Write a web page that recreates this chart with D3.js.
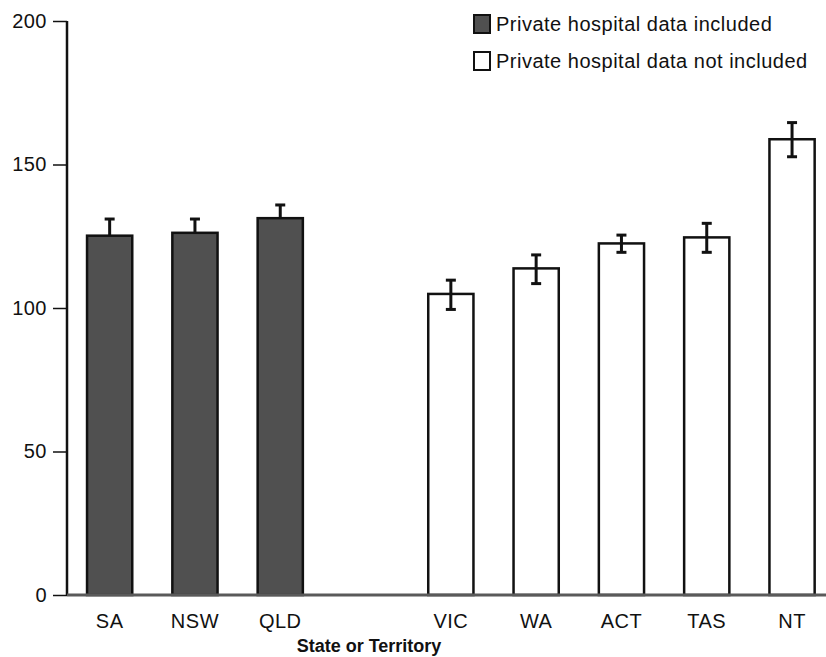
<!DOCTYPE html>
<html>
<head>
<meta charset="utf-8">
<script src="https://cdn.jsdelivr.net/npm/d3@7"></script>
<style>
  html, body { margin: 0; padding: 0; background: #fff; }
  svg { display: block; font-family: "Liberation Sans", Arial, Helvetica, sans-serif; }
</style>
</head>
<body>
<svg id="chart" width="826" height="657"></svg>
<script>
// Rates by state or territory, with error bar limits
const states = ["SA", "NSW", "QLD", "VIC", "WA", "ACT", "TAS", "NT"];
const rates  = [125.2, 126.2, 131.3, 104.9, 113.8, 122.5, 124.6, 158.8];
const lower  = [119.5, 121.5, 126.5, 99.5, 108.5, 119.4, 119.4, 152.7];
const upper  = [131.0, 131.0, 135.9, 109.7, 118.5, 125.4, 129.5, 164.6];
const privateIncluded = [true, true, true, false, false, false, false, false];
const yTicks = [0, 50, 100, 150, 200];
const legendLabels = ["Private hospital data included", "Private hospital data not included"];
const xTitle = "State or Territory";

// A blank slot separates the two groups on the axis
const slots = ["SA", "NSW", "QLD", "gap", "VIC", "WA", "ACT", "TAS", "NT"];

const svg = d3.select("#chart");
const x0 = 67, y0 = 595, yTop = 21;
const labelSize = 20, labelSpacing = "0.5px";

const x = d3.scaleBand().domain(slots).range([x0, x0 + 85.3 * 9]).paddingInner(0.47).paddingOuter(0.235);
const y = d3.scaleLinear().domain([0, 200]).range([y0, yTop]);

const darkFill = "#505050";

// Bars
const data = states.map((s, i) => ({ s, v: rates[i], lo: lower[i], hi: upper[i], p: privateIncluded[i] }));
svg.append("g").selectAll("rect").data(data).join("rect")
  .attr("x", d => x(d.s))
  .attr("y", d => y(d.v))
  .attr("width", x.bandwidth())
  .attr("height", d => y(0) - y(d.v))
  .attr("fill", d => d.p ? darkFill : "#fff")
  .attr("stroke", "#111")
  .attr("stroke-width", 2.5);

// Error bars
const eb = svg.append("g").attr("stroke", "#111").attr("stroke-width", 3);
data.forEach(d => {
  const cx = x(d.s) + x.bandwidth() / 2;
  eb.append("line").attr("x1", cx).attr("x2", cx).attr("y1", y(d.hi)).attr("y2", y(d.p ? d.v : d.lo));
  eb.append("line").attr("x1", cx - 5).attr("x2", cx + 5).attr("y1", y(d.hi)).attr("y2", y(d.hi));
  if (!d.p) eb.append("line").attr("x1", cx - 5).attr("x2", cx + 5).attr("y1", y(d.lo)).attr("y2", y(d.lo));
});

// Y axis
const yAxis = d3.axisLeft(y).tickValues(yTicks).tickSize(14).tickPadding(6);
const gy = svg.append("g").attr("transform", `translate(${x0},0)`).call(yAxis);
gy.select(".domain").remove();
gy.selectAll(".tick line").attr("stroke", "#111").attr("stroke-width", 1.5);
gy.selectAll(".tick text").attr("font-size", labelSize).attr("letter-spacing", labelSpacing).attr("fill", "#111")
  .attr("font-family", "'Liberation Sans', Arial, sans-serif");
svg.append("line").attr("x1", x0).attr("x2", x0).attr("y1", yTop).attr("y2", y0)
  .attr("stroke", "#111").attr("stroke-width", 2.5);

// X axis
const xAxis = d3.axisBottom(x).tickValues(states).tickSize(0).tickPadding(19);
const gx = svg.append("g").attr("transform", `translate(0,${y0})`).call(xAxis);
gx.select(".domain").remove();
gx.selectAll(".tick text").attr("font-size", labelSize).attr("letter-spacing", labelSpacing).attr("fill", "#111")
  .attr("font-family", "'Liberation Sans', Arial, sans-serif");
svg.append("line").attr("x1", x0).attr("x2", 826).attr("y1", y0).attr("y2", y0)
  .attr("stroke", "#5a5a5a").attr("stroke-width", 3);

svg.append("text").attr("x", 369).attr("y", 652).attr("text-anchor", "middle")
  .attr("font-size", 18).attr("font-weight", "bold").attr("fill", "#111").text(xTitle);

// Legend
const lg = svg.append("g").attr("transform", "translate(474,15)");
legendLabels.forEach((t, i) => {
  const g = lg.append("g").attr("transform", `translate(0,${i * 37})`);
  g.append("rect").attr("x", 0).attr("y", 0).attr("width", 16).attr("height", 18)
    .attr("fill", i === 0 ? darkFill : "#fff").attr("stroke", "#111").attr("stroke-width", 2);
  g.append("text").attr("x", 22).attr("y", 16).attr("font-size", labelSize)
    .attr("letter-spacing", labelSpacing).attr("fill", "#111").text(t);
});
</script>
</body>
</html>
